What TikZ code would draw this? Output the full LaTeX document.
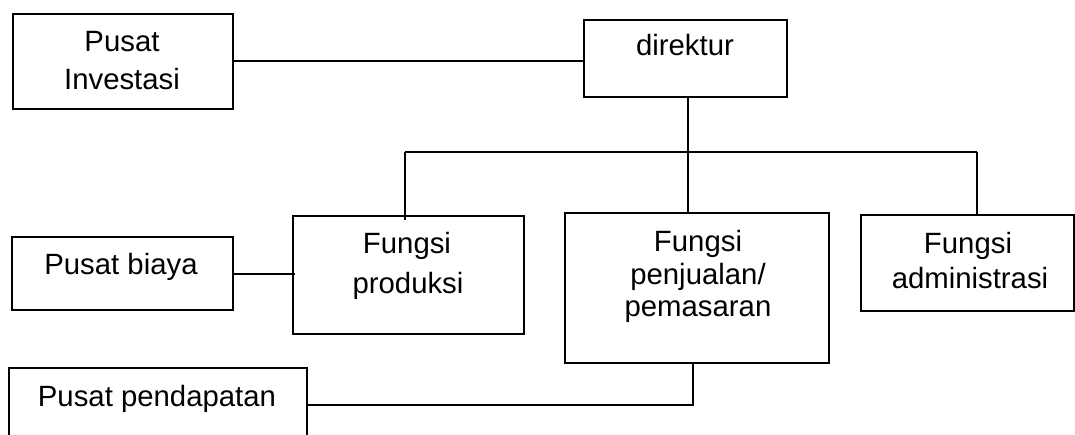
\documentclass[tikz,border=0pt]{standalone}
\usepackage{fontspec}
\setmainfont{Liberation Sans}
\usetikzlibrary{calc}
\newlength\pxu
\setlength\pxu{0.75pt}
\begin{document}
\begin{tikzpicture}[x=0.75pt,y=-0.75pt,
  box/.style={draw,line width=1.5pt,rectangle,inner sep=0pt,anchor=north west},
  lbl/.style={anchor=base,inner sep=0pt,font=\fontsize{22}{26}\selectfont},
  link/.style={line width=1.5pt}]
\clip (0,0) rectangle (1075,435);
% boxes
\node[box,minimum width=220*\pxu,minimum height=95*\pxu] (inv) at (12,13) {};
\node[box,minimum width=203*\pxu,minimum height=77*\pxu] (dir) at (583,19) {};
\node[box,minimum width=231*\pxu,minimum height=118*\pxu] (prod) at (292,215) {};
\node[box,minimum width=264*\pxu,minimum height=150*\pxu] (penj) at (564,212) {};
\node[box,minimum width=213*\pxu,minimum height=96*\pxu] (adm) at (860,214) {};
\node[box,minimum width=221*\pxu,minimum height=73*\pxu] (biaya) at (11,236) {};
\node[box,minimum width=298*\pxu,minimum height=120*\pxu] (pend) at (8,367) {};
% labels
\node[lbl] (invA) at (122,52) {Pusat};
\node[lbl] (invB) at (122,90) {Investasi};
\node[lbl] (dirA) at (685,56) {direktur};
\node[lbl] (prodA) at (407,253) {Fungsi};
\node[lbl] (prodB) at (408,293) {produksi};
\node[lbl] (penjA) at (698,251) {Fungsi};
\node[lbl] (penjB) at (698,284) {penjualan/};
\node[lbl] (penjC) at (698,316) {pemasaran};
\node[lbl] (admA) at (968,253) {Fungsi};
\node[lbl] (admB) at (970,288) {administrasi};
\node[lbl] (biayaA) at (121,274) {Pusat biaya};
\node[lbl] (pendA) at (157,406) {Pusat pendapatan};
% junction coordinates
\coordinate (hub) at (688,152);
\coordinate (hl) at (405,152);
\coordinate (hr) at (977,152);
\coordinate (pj) at (693,405);
% connectors
\draw[link] (inv.east) -- (inv.east -| dir.west);
\draw[link] (dir.south -| hub) -- (hub |- penj.north);
\draw[link] (hl) -- (hr);
\draw[link] (hl) -- ($(hl |- prod.north)+(0,5)$);
\draw[link] (hr) -- (hr |- adm.north);
\draw[link] (biaya.east) -- ($(biaya.east -| prod.west)+(3,0)$);
\draw[link] (pend.east |- pj) -- (pj) -- (pj |- penj.south);
\end{tikzpicture}
\end{document}
